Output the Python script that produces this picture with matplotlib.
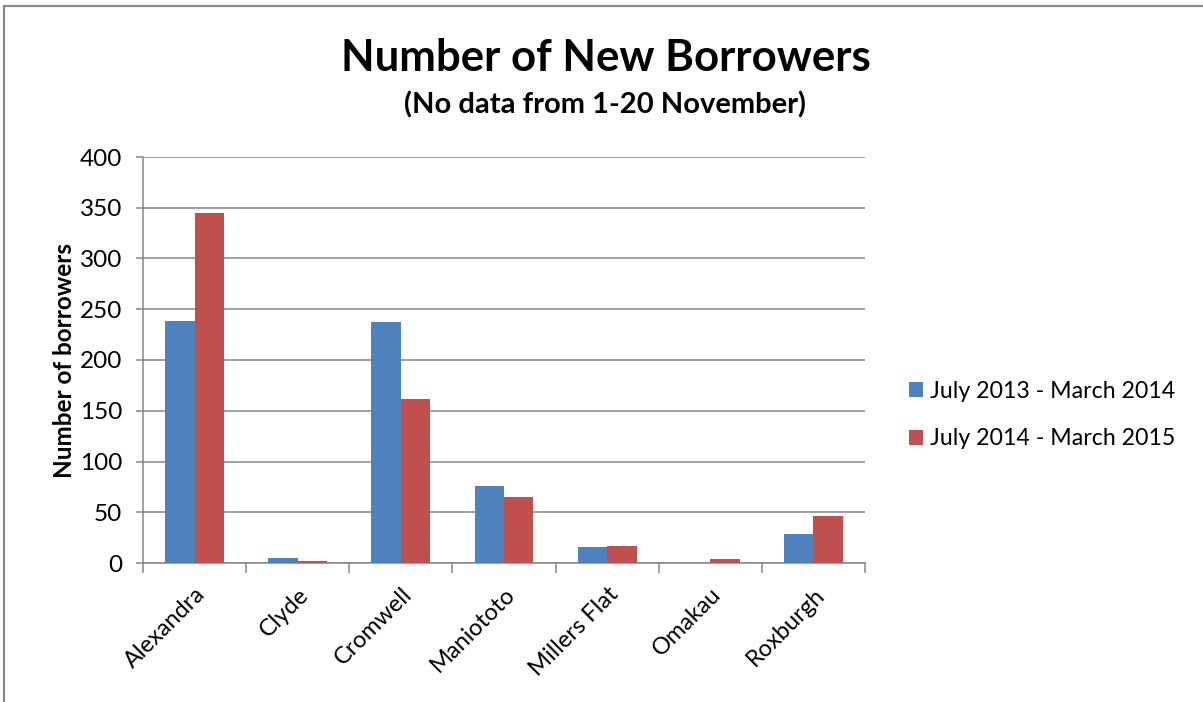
import matplotlib
matplotlib.use("Agg")
import matplotlib.pyplot as plt
from matplotlib.lines import Line2D
import numpy as np

branches = ["Alexandra", "Clyde", "Cromwell", "Maniototo", "Millers Flat", "Omakau", "Roxburgh"]
period_2013 = [238, 5, 237, 76, 16, 0, 29]
period_2014 = [345, 2, 162, 65, 17, 4, 46]
series_labels = ["July 2013 - March 2014", "July 2014 - March 2015"]
y_ticks = [0, 50, 100, 150, 200, 250, 300, 350, 400]

BLUE = "#4F81BD"
RED = "#C0504D"
GRID = "#868686"

plt.rcParams["font.family"] = ["Lato", "DejaVu Sans"]

W, H = 1203, 702
fig = plt.figure(figsize=(W / 100, H / 100), dpi=100)
ax = fig.add_axes([143 / W, 1 - 563 / H, (865 - 143) / W, (563 - 157) / H])

x = np.arange(len(branches))
bw = 0.2857
ax.bar(x - bw / 2, period_2013, width=bw, color=BLUE, label=series_labels[0], zorder=3)
ax.bar(x + bw / 2, period_2014, width=bw, color=RED, label=series_labels[1], zorder=3)

ax.set_xlim(-0.5, len(branches) - 0.5)
ax.set_ylim(0, 400)
ax.set_yticks(y_ticks)
ax.set_yticklabels([str(v) for v in y_ticks], fontsize=17.5)
ax.yaxis.grid(True, color=GRID, linewidth=1.1, zorder=0)
ax.set_axisbelow(True)

ax.set_xticks(x)
ax.set_xticklabels(branches, rotation=45, ha="right", rotation_mode="anchor", fontsize=17)
ax.set_xticks(np.arange(-0.5, len(branches)), minor=True)
ax.tick_params(axis="x", which="major", length=0, pad=15)
ax.tick_params(axis="x", which="minor", length=7, width=1.1, color=GRID, direction="out")
ax.tick_params(axis="y", length=5, width=1.1, color=GRID, direction="out", pad=10)

for side in ("top", "right"):
    ax.spines[side].set_visible(False)
for side in ("left", "bottom"):
    ax.spines[side].set_color(GRID)
    ax.spines[side].set_linewidth(1.1)

ax.set_ylabel("Number of borrowers", fontsize=17.5, fontweight="bold", labelpad=3)

fig.text(606 / W, 1 - 58 / H, "Number of New Borrowers", ha="center", va="center",
         fontsize=31.5, fontweight="bold")
fig.text(605 / W, 1 - 105 / H, "(No data from 1-20 November)", ha="center", va="center",
         fontsize=21, fontweight="bold")

fig.legend(loc="center left", bbox_to_anchor=(888 / W, 1 - 415 / H), frameon=False,
           fontsize=16.7, handlelength=0.6, handleheight=0.6, handletextpad=0.3,
           labelspacing=1.15)

# chart frame edges
fig.add_artist(Line2D([4 / W, 4 / W], [0, 1 - 6 / H], transform=fig.transFigure,
                      color=GRID, linewidth=1.5))
fig.add_artist(Line2D([4 / W, 1], [1 - 6 / H, 1 - 6 / H], transform=fig.transFigure,
                      color=GRID, linewidth=1.5))

fig.savefig("out.png", dpi=100, facecolor="white")
